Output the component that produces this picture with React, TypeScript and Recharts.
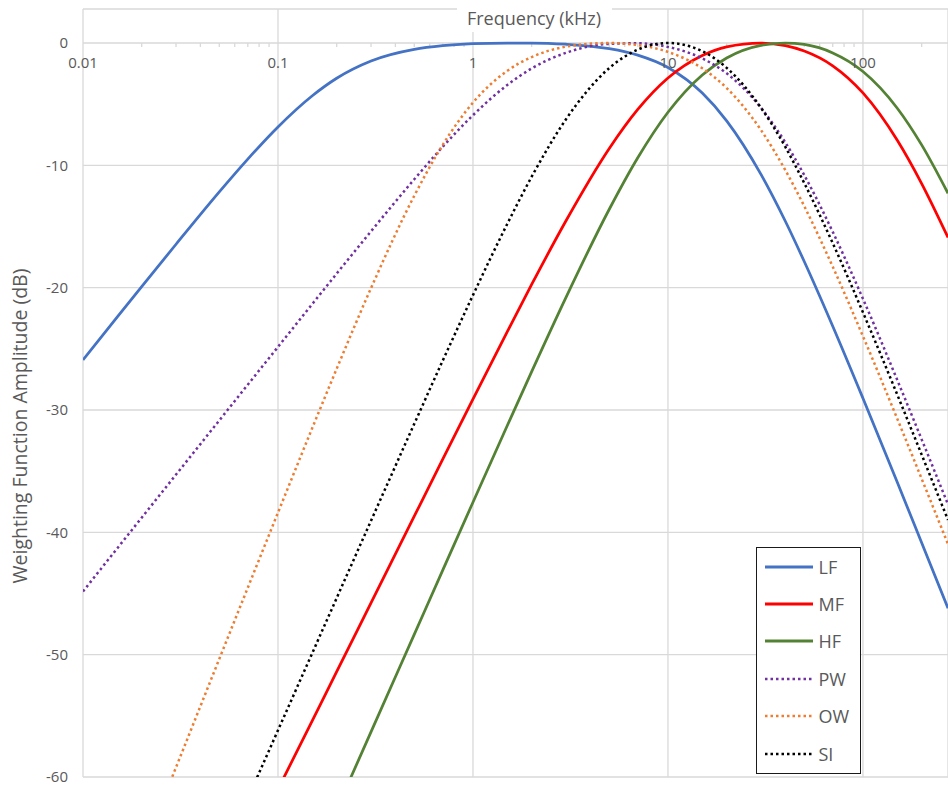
import { CartesianGrid, Legend, Line, LineChart, ReferenceLine, XAxis, YAxis } from 'recharts';

// frequency in kHz, amplitude in dB
const frequencies = [0.01, 0.015, 0.02, 0.03, 0.05, 0.07, 0.1, 0.15, 0.2, 0.3, 0.5, 0.7, 1, 1.5, 2, 3, 5, 7, 10, 15, 20, 30, 40, 50, 70, 100, 150, 200, 273];

const lf = [-25.91, -22.39, -19.91, -16.45, -12.17, -9.49, -6.86, -4.31, -2.88, -1.47, -0.52, -0.22, -0.06, 0, 0, -0.1, -0.46, -0.99, -2.0, -4.09, -6.36, -10.74, -14.57, -17.86, -23.15, -29.04, -35.91, -40.85, -46.2];
const mf = [null, null, null, null, null, -66.0, -61.0, -55.39, -51.39, -45.77, -38.68, -34.02, -29.11, -23.59, -19.74, -14.53, -8.62, -5.43, -2.86, -1.02, -0.31, 0, -0.21, -0.65, -1.86, -4.08, -7.95, -11.49, -15.9];
const hf = [null, null, null, null, null, null, null, -67.15, -62.65, -56.31, -48.34, -43.09, -37.54, -31.27, -26.86, -20.79, -13.59, -9.38, -5.66, -2.61, -1.22, -0.19, 0, -0.12, -0.81, -2.33, -5.33, -8.33, -12.29];
const pw = [-44.83, -41.3, -38.8, -35.28, -30.85, -27.93, -24.84, -21.33, -18.85, -15.39, -11.14, -8.48, -5.9, -3.43, -2.08, -0.8, -0.07, -0.02, -0.32, -1.26, -2.48, -5.29, -8.13, -10.8, -15.44, -20.91, -27.55, -32.4, -37.72];
const ow = [null, null, -66.24, -59.21, -50.35, -44.53, -38.39, -31.46, -26.63, -20.04, -12.49, -8.32, -4.87, -2.27, -1.15, -0.3, 0, -0.17, -0.73, -2.07, -3.68, -7.12, -10.4, -13.34, -18.29, -23.97, -30.72, -35.62, -40.96];
const si = [null, null, null, null, -67.02, -61.76, -56.18, -49.86, -45.37, -39.05, -31.13, -25.96, -20.61, -14.78, -10.93, -6.23, -2.05, -0.54, 0, -0.67, -2.03, -5.3, -8.5, -11.45, -16.36, -22.02, -28.75, -33.65, -38.98];

const xTicks = [0.01, 0.1, 1, 10, 100];
const minorTicks = [
  0.02, 0.03, 0.04, 0.05, 0.06, 0.07, 0.08, 0.09,
  0.2, 0.3, 0.4, 0.5, 0.6, 0.7, 0.8, 0.9,
  2, 3, 4, 5, 6, 7, 8, 9,
  20, 30, 40, 50, 60, 70, 80, 90,
  200,
];
const yTicks = [0, -10, -20, -30, -40, -50, -60];

const series = [
  { key: 'LF', values: lf, color: '#4472C4', dotted: false },
  { key: 'MF', values: mf, color: '#FF0000', dotted: false },
  { key: 'HF', values: hf, color: '#548235', dotted: false },
  { key: 'PW', values: pw, color: '#7030A0', dotted: true },
  { key: 'OW', values: ow, color: '#ED7D31', dotted: true },
  { key: 'SI', values: si, color: '#000000', dotted: true },
];

const data = frequencies.map((f, i) => {
  const row: Record<string, number | null> = { f };
  series.forEach((s) => {
    row[s.key] = s.values[i];
  });
  return row;
});

const textColor = '#595959';
const gridColor = '#D9D9D9';

function FreqTick({ x, payload }: any) {
  return (
    <text x={x} y={62} textAnchor="middle" dominantBaseline="central" fill={textColor} fontSize={15}>
      {payload.value}
    </text>
  );
}

function FreqTitle() {
  return (
    <g>
      <rect x={457} y={0} width={155} height={32} fill="#fff" />
      <text x={534} y={18} textAnchor="middle" dominantBaseline="central" fill={textColor} fontSize={18}>
        Frequency (kHz)
      </text>
    </g>
  );
}

function AmpTitle() {
  return (
    <text
      x={19}
      y={426}
      transform="rotate(-90 19 426)"
      textAnchor="middle"
      dominantBaseline="central"
      fill={textColor}
      fontSize={19.5}
    >
      Weighting Function Amplitude (dB)
    </text>
  );
}

function LegendBox() {
  return (
    <div
      style={{
        width: 105,
        height: 227,
        boxSizing: 'border-box',
        border: '1.5px solid #1a1a1a',
        background: '#fff',
      }}
    >
      {series.map((s) => (
        <div key={s.key} style={{ display: 'flex', alignItems: 'center', height: 37.4 }}>
          <svg width={48} height={6} style={{ marginLeft: 7.5 }}>
            <line
              x1={0}
              y1={3}
              x2={48}
              y2={3}
              stroke={s.color}
              strokeWidth={s.dotted ? 2.5 : 3}
              strokeDasharray={s.dotted ? '2.5 3' : undefined}
            />
          </svg>
          <span style={{ marginLeft: 6, fontSize: 18, color: textColor, lineHeight: 1 }}>{s.key}</span>
        </div>
      ))}
    </div>
  );
}

export default function App() {
  return (
    <div style={{ fontFamily: '"Open Sans", sans-serif' }}>
      <style>{'html, body { margin: 0; padding: 0; overflow: hidden; }'}</style>
      <LineChart width={948} height={785} data={data} margin={{ top: 8, right: 0, bottom: 8, left: 8 }}>
        <CartesianGrid stroke={gridColor} strokeWidth={1.3} />
        <XAxis
          dataKey="f"
          type="number"
          scale="log"
          domain={[0.01, 273]}
          ticks={xTicks}
          interval={0}
          orientation="top"
          height={1}
          allowDataOverflow
          axisLine={false}
          tickLine={false}
          tick={<FreqTick />}
          label={<FreqTitle />}
        />
        <YAxis
          type="number"
          domain={[-60, 2.78]}
          ticks={yTicks}
          interval={0}
          allowDataOverflow
          width={75}
          axisLine={false}
          tickLine={false}
          tickMargin={9}
          tick={{ fill: textColor, fontSize: 15 }}
          label={<AmpTitle />}
        />
        {minorTicks.map((m) => (
          <ReferenceLine
            key={m}
            segment={[
              { x: m, y: 0 },
              { x: m, y: -0.33 },
            ]}
            stroke={gridColor}
            strokeWidth={1.3}
          />
        ))}
        {series.map((s) => (
          <Line
            key={s.key}
            dataKey={s.key}
            type="monotone"
            stroke={s.color}
            strokeWidth={s.dotted ? 2.5 : 2.75}
            strokeDasharray={s.dotted ? '2.5 3' : undefined}
            dot={false}
            activeDot={false}
            isAnimationActive={false}
          />
        ))}
        <Legend
          layout="horizontal"
          verticalAlign="middle"
          align="center"
          content={<LegendBox />}
          wrapperStyle={{ left: 756, top: 547, width: 105, height: 227 }}
        />
      </LineChart>
    </div>
  );
}
